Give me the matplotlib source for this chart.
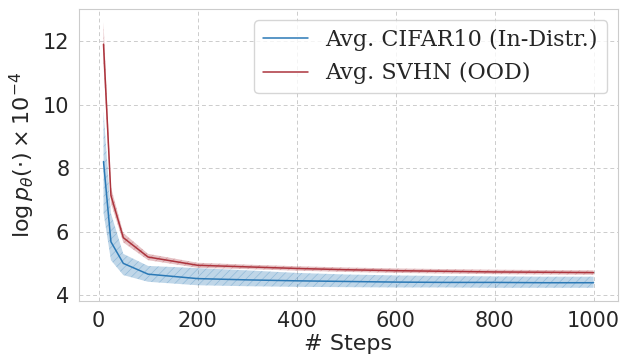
import numpy as np
import matplotlib
matplotlib.use('Agg')
from matplotlib import pyplot as plt
import seaborn as sns

steps = [10, 25, 50, 100, 200, 300, 400, 500, 600, 700, 800, 900, 1000]
cifar_mean = [8.21, 5.68, 5.00, 4.66, 4.52, 4.48, 4.45, 4.43, 4.41, 4.40, 4.40, 4.39, 4.39]
cifar_lo = [6.60, 5.10, 4.63, 4.42, 4.31, 4.28, 4.26, 4.25, 4.24, 4.24, 4.23, 4.23, 4.23]
cifar_hi = [9.79, 6.58, 5.30, 4.92, 4.85, 4.78, 4.70, 4.65, 4.62, 4.60, 4.59, 4.58, 4.58]
svhn_mean = [11.91, 7.14, 5.81, 5.20, 4.94, 4.89, 4.84, 4.80, 4.77, 4.75, 4.73, 4.72, 4.71]
svhn_lo = [11.30, 6.90, 5.66, 5.10, 4.86, 4.82, 4.77, 4.73, 4.70, 4.68, 4.66, 4.65, 4.64]
svhn_hi = [12.60, 7.40, 5.96, 5.30, 5.02, 4.96, 4.91, 4.87, 4.84, 4.82, 4.80, 4.79, 4.78]

sns.set_style('whitegrid', {'grid.linestyle': (0, (4, 3))})
plt.rcParams['hatch.linewidth'] = 0.5
plt.rcParams['grid.linewidth'] = 0.7

fig, ax = plt.subplots(figsize=(6.32, 3.61), dpi=100)
fig.subplots_adjust(left=0.125, right=0.978, top=0.975, bottom=0.166)

blue = '#2b79b6'
red = '#ac343d'
ax.plot(steps, cifar_mean, color=blue, lw=1.1, label='Avg. CIFAR10 (In-Distr.)')
ax.fill_between(steps, cifar_lo, cifar_hi, color=blue, alpha=0.3, hatch='////', edgecolor=blue, lw=0)
ax.plot(steps, svhn_mean, color=red, lw=1.1, label='Avg. SVHN (OOD)')
ax.fill_between(steps, svhn_lo, svhn_hi, color=red, alpha=0.3, hatch='////', edgecolor=red, lw=0)

ax.set_xlabel('# Steps', fontsize=16, labelpad=2)
ax.set_ylabel(r'$\log p_\theta(\cdot)\times 10^{-4}$', fontsize=16)
ax.tick_params(labelsize=15)
ax.set_yticks([4, 6, 8, 10, 12])
ax.legend(loc='upper right', prop={'family': 'DejaVu Serif', 'size': 16})

fig.savefig('out.png')
